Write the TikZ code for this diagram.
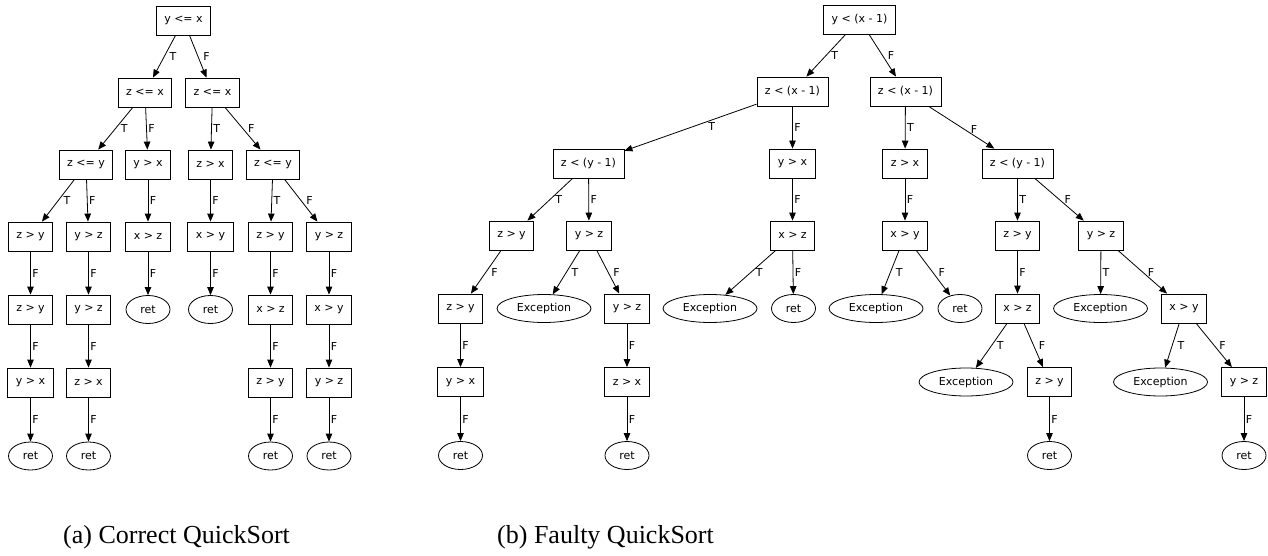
\documentclass[tikz,border=0pt]{standalone}
\usepackage{fontspec}
\setmainfont{Liberation Serif}
\newfontfamily\graphfont{DejaVu Sans}
\usetikzlibrary{positioning,arrows.meta,shapes.geometric}

\begin{document}
\begin{tikzpicture}[x=1pt, y=-1pt, >={Triangle[length=8pt,width=6.5pt]},
  every node/.style={font=\graphfont\fontsize{11}{13}\selectfont},
  cond/.style={draw, line width=0.8pt, minimum height=29pt, inner xsep=8pt, inner ysep=0pt},
  leaf/.style={draw, ellipse, line width=0.8pt, minimum width=44pt, minimum height=28pt, inner sep=0pt},
  exc/.style={leaf, minimum width=94pt},
  lbl/.style={anchor=west, inner sep=1.5pt},
  slbl/.style={lbl, xshift=3.5pt},
  edge/.style={->, line width=0.8pt}]
  \useasboundingbox (0,0) rectangle (1268,556);

  % (a) correct
  \node[cond] (a) at (183.5,20.5) {y <= x};
  \node[cond] (aT) at (145,92.5) {z <= x};
  \node[cond] (aF) at (212.5,92.5) {z <= x};
  \node[cond] (aTT) at (86,164.5) {z <= y};
  \node[cond] (aTF) at (148,164.5) {y > x};
  \node[cond] (aFT) at (210.5,164.5) {z > x};
  \node[cond] (aFF) at (273,164.5) {z <= y};
  \node[cond] (aTTT) at (30.5,236.5) {z > y};
  \node[cond] (aTTF) at (88.5,236.5) {y > z};
  \node[cond] (aTFF) at (148,236.5) {x > z};
  \node[cond] (aFTF) at (210.5,236.5) {x > y};
  \node[cond] (aFFT) at (270.5,236.5) {z > y};
  \node[cond] (aFFF) at (329,236.5) {y > z};
  \node[cond] (aTTTF) at (30.5,309.5) {z > y};
  \node[cond] (aTTFF) at (88.5,309.5) {y > z};
  \node[leaf] (aTFFF) at (148,309.5) {ret};
  \node[leaf] (aFTFF) at (210.5,309.5) {ret};
  \node[cond] (aFFTF) at (270.5,309.5) {x > z};
  \node[cond] (aFFFF) at (329,309.5) {x > y};
  \node[cond] (aTTTFF) at (30.5,382.5) {y > x};
  \node[cond] (aTTFFF) at (88.5,382.5) {z > x};
  \node[cond] (aFFTFF) at (270.5,382.5) {z > y};
  \node[cond] (aFFFFF) at (329,382.5) {y > z};
  \node[leaf] (aTTTFFF) at (30.5,456) {ret};
  \node[leaf] (aTTFFFF) at (88.5,456) {ret};
  \node[leaf] (aFFTFFF) at (270.5,456) {ret};
  \node[leaf] (aFFFFFF) at (329,456) {ret};

  \draw[edge] (a) -- node[slbl] {T} (aT);
  \draw[edge] (a) -- node[slbl] {F} (aF);
  \draw[edge] (aT) -- node[slbl] {T} (aTT);
  \draw[edge] (aT) -- node[lbl] {F} (aTF);
  \draw[edge] (aF) -- node[lbl] {T} (aFT);
  \draw[edge] (aF) -- node[slbl] {F} (aFF);
  \draw[edge] (aTT) -- node[slbl] {T} (aTTT);
  \draw[edge] (aTT) -- node[lbl] {F} (aTTF);
  \draw[edge] (aTF) -- node[lbl] {F} (aTFF);
  \draw[edge] (aFT) -- node[lbl] {F} (aFTF);
  \draw[edge] (aFF) -- node[lbl] {T} (aFFT);
  \draw[edge] (aFF) -- node[slbl] {F} (aFFF);
  \draw[edge] (aTTT) -- node[lbl] {F} (aTTTF);
  \draw[edge] (aTTF) -- node[lbl] {F} (aTTFF);
  \draw[edge] (aTFF) -- node[lbl] {F} (aTFFF);
  \draw[edge] (aFTF) -- node[lbl] {F} (aFTFF);
  \draw[edge] (aFFT) -- node[lbl] {F} (aFFTF);
  \draw[edge] (aFFF) -- node[lbl] {F} (aFFFF);
  \draw[edge] (aTTTF) -- node[lbl] {F} (aTTTFF);
  \draw[edge] (aTTFF) -- node[lbl] {F} (aTTFFF);
  \draw[edge] (aFFTF) -- node[lbl] {F} (aFFTFF);
  \draw[edge] (aFFFF) -- node[lbl] {F} (aFFFFF);
  \draw[edge] (aTTTFF) -- node[lbl] {F} (aTTTFFF);
  \draw[edge] (aTTFFF) -- node[lbl] {F} (aTTFFFF);
  \draw[edge] (aFFTFF) -- node[lbl] {F} (aFFTFFF);
  \draw[edge] (aFFFFF) -- node[lbl] {F} (aFFFFFF);

  % (b) faulty
  \node[cond] (b) at (859.5,19.5) {y < (x - 1)};
  \node[cond] (bT) at (792.5,91.5) {z < (x - 1)};
  \node[cond] (bF) at (905.5,91.5) {z < (x - 1)};
  \node[cond] (bTT) at (588.5,163.5) {z < (y - 1)};
  \node[cond] (bTF) at (792.5,163.5) {y > x};
  \node[cond] (bFT) at (905,163.5) {z > x};
  \node[cond] (bFF) at (1017.5,163.5) {z < (y - 1)};
  \node[cond] (bTTT) at (511.5,235.5) {z > y};
  \node[cond] (bTTF) at (589,235.5) {y > z};
  \node[cond] (bTFF) at (792.5,235.5) {x > z};
  \node[cond] (bFTF) at (905,235.5) {x > y};
  \node[cond] (bFFT) at (1017.5,235.5) {z > y};
  \node[cond] (bFFF) at (1101,235.5) {y > z};
  \node[cond] (bTTTF) at (460.5,308.5) {z > y};
  \node[exc] (bTTFT) at (544,308.5) {Exception};
  \node[cond] (bTTFF) at (627,308.5) {y > z};
  \node[exc] (bTFFT) at (710,308.5) {Exception};
  \node[leaf] (bTFFF) at (793.5,308.5) {ret};
  \node[exc] (bFTFT) at (876,308.5) {Exception};
  \node[leaf] (bFTFF) at (960,308.5) {ret};
  \node[cond] (bFFTF) at (1017.5,308.5) {x > z};
  \node[exc] (bFFFT) at (1100.5,308.5) {Exception};
  \node[cond] (bFFFF) at (1184,308.5) {x > y};
  \node[cond] (bTTTFF) at (460.5,382) {y > x};
  \node[cond] (bTTFFF) at (627,382) {z > x};
  \node[exc] (bFFTFT) at (966,382) {Exception};
  \node[cond] (bFFTFF) at (1049.5,382) {z > y};
  \node[exc] (bFFFFT) at (1160.5,382) {Exception};
  \node[cond] (bFFFFF) at (1244,382) {y > z};
  \node[leaf] (bTTTFFF) at (460.5,455.5) {ret};
  \node[leaf] (bTTFFFF) at (627,455.5) {ret};
  \node[leaf] (bFFTFFF) at (1049.5,455.5) {ret};
  \node[leaf] (bFFFFFF) at (1244,455.5) {ret};

  \draw[edge] (b) -- node[slbl] {T} (bT);
  \draw[edge] (b) -- node[slbl] {F} (bF);
  \draw[edge] (bT) -- node[pos=0.34, anchor=north, inner sep=2pt] {T} (bTT);
  \draw[edge] (bT) -- node[lbl] {F} (bTF);
  \draw[edge] (bF) -- node[lbl] {T} (bFT);
  \draw[edge] (bF) -- node[pos=0.69, anchor=south, inner sep=2pt] {F} (bFF);
  \draw[edge] (bTT) -- node[slbl] {T} (bTTT);
  \draw[edge] (bTT) -- node[lbl] {F} (bTTF);
  \draw[edge] (bTF) -- node[lbl] {F} (bTFF);
  \draw[edge] (bFT) -- node[lbl] {F} (bFTF);
  \draw[edge] (bFF) -- node[lbl] {T} (bFFT);
  \draw[edge] (bFF) -- node[slbl] {F} (bFFF);
  \draw[edge] (bTTT) -- node[slbl] {F} (bTTTF);
  \draw[edge] (bTTF) -- node[slbl] {T} (bTTFT);
  \draw[edge] (bTTF) -- node[slbl] {F} (bTTFF);
  \draw[edge] (bTFF) -- node[slbl] {T} (bTFFT);
  \draw[edge] (bTFF) -- node[lbl] {F} (bTFFF);
  \draw[edge] (bFTF) -- node[slbl] {T} (bFTFT);
  \draw[edge] (bFTF) -- node[slbl] {F} (bFTFF);
  \draw[edge] (bFFT) -- node[lbl] {F} (bFFTF);
  \draw[edge] (bFFF) -- node[lbl] {T} (bFFFT);
  \draw[edge] (bFFF) -- node[slbl] {F} (bFFFF);
  \draw[edge] (bTTTF) -- node[lbl] {F} (bTTTFF);
  \draw[edge] (bTTFF) -- node[lbl] {F} (bTTFFF);
  \draw[edge] (bFFTF) -- node[slbl] {T} (bFFTFT);
  \draw[edge] (bFFTF) -- node[slbl] {F} (bFFTFF);
  \draw[edge] (bFFFF) -- node[slbl] {T} (bFFFFT);
  \draw[edge] (bFFFF) -- node[slbl] {F} (bFFFFF);
  \draw[edge] (bTTTFF) -- node[lbl] {F} (bTTTFFF);
  \draw[edge] (bTTFFF) -- node[lbl] {F} (bTTFFFF);
  \draw[edge] (bFFTFF) -- node[lbl] {F} (bFFTFFF);
  \draw[edge] (bFFFFF) -- node[lbl] {F} (bFFFFFF);

  \node[font=\fontsize{26}{30}\selectfont, anchor=base west, inner sep=0pt] (capa) at (63,543) {(a) Correct QuickSort};
  \node[font=\fontsize{26}{30}\selectfont, anchor=base west, inner sep=0pt] (capb) at (497,543) {(b) Faulty QuickSort};
\end{tikzpicture}
\end{document}
